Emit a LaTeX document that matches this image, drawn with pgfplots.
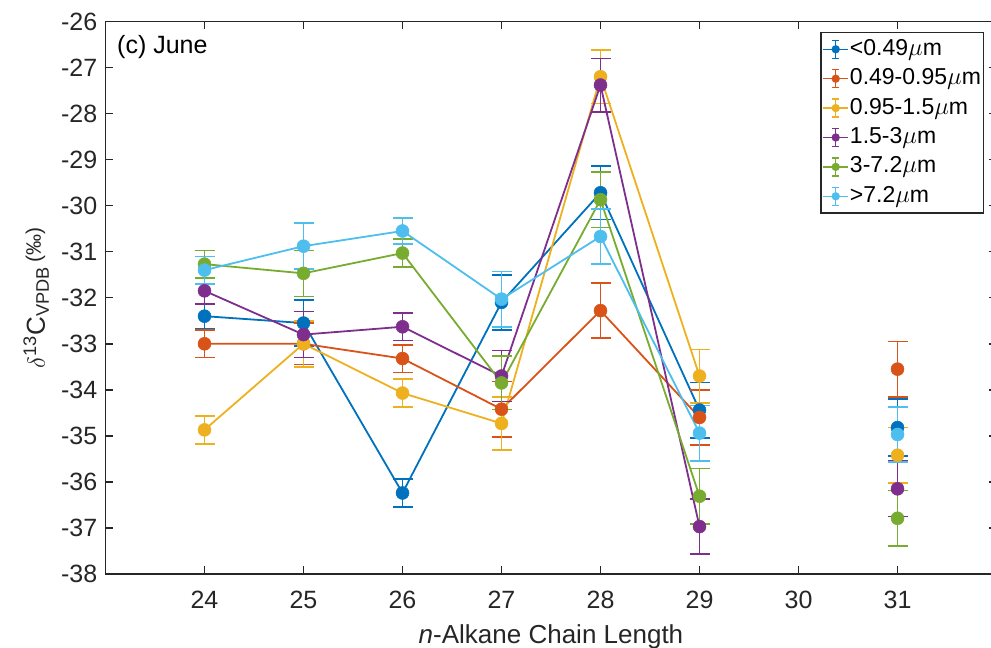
\documentclass[border=0pt]{standalone}
\usepackage{fontspec}
\setmainfont{Liberation Sans}
\usepackage{pgfplots}
\usepackage{pgfplotstable}
\pgfplotsset{compat=1.18}

\definecolor{c1}{HTML}{0072BD}
\definecolor{c2}{HTML}{D95319}
\definecolor{c3}{HTML}{EDB120}
\definecolor{c4}{HTML}{7E2F8E}
\definecolor{c5}{HTML}{77AC30}
\definecolor{c6}{HTML}{4DBEEE}
\definecolor{axgray}{RGB}{38,38,38}

\pgfplotstableread{
x y e
24 -32.40 0.27
25 -32.55 0.50
26 -36.24 0.30
27 -32.10 0.60
28 -29.72 0.58
29 -34.44 0.60
30 nan 0
31 -34.82 0.62
}\dA
\pgfplotstableread{
x y e
24 -33.00 0.30
25 -33.00 0.45
26 -33.32 0.30
27 -34.42 0.60
28 -32.28 0.60
29 -34.60 0.60
30 nan 0
31 -33.55 0.60
}\dB
\pgfplotstableread{
x y e
24 -34.87 0.30
25 -33.00 0.50
26 -34.07 0.30
27 -34.73 0.58
28 -27.20 0.58
29 -33.70 0.58
30 nan 0
31 -35.42 0.60
}\dC
\pgfplotstableread{
x y e
24 -31.85 0.28
25 -32.80 0.50
26 -32.63 0.30
27 -33.70 0.55
28 -27.38 0.58
29 -36.97 0.60
30 nan 0
31 -36.15 0.60
}\dD
\pgfplotstableread{
x y e
24 -31.27 0.30
25 -31.47 0.50
26 -31.03 0.30
27 -33.85 0.58
28 -29.87 0.60
29 -36.31 0.60
30 nan 0
31 -36.79 0.60
}\dE
\pgfplotstableread{
x y e
24 -31.40 0.30
25 -30.88 0.50
26 -30.55 0.28
27 -32.03 0.60
28 -30.67 0.60
29 -34.94 0.60
30 nan 0
31 -34.97 0.60
}\dF

\pgfplotsset{
  ser/.style={
    color=#1, line width=1.8bp, mark=*, mark size=6.5bp,
    mark options={solid, fill=#1, draw=#1, line width=0.5bp},
    error bars/.cd, y dir=both, y explicit,
      error bar style={line width=1.6bp, color=#1},
      error mark options={line width=1.6bp, mark size=10bp, color=#1, rotate=90},
  },
}

\begin{document}
\begin{tikzpicture}
\begin{axis}[
  name=ax,
  scale only axis,
  width=891bp, height=552.5bp,
  xmin=23, xmax=32, ymin=-38, ymax=-26,
  xtick={24,25,26,27,28,29,30,31},
  xticklabels={24,25,26,27,28,29,30,31},
  ytick={-38,-37,-36,-35,-34,-33,-32,-31,-30,-29,-28,-27,-26},
  yticklabels={-38,-37,-36,-35,-34,-33,-32,-31,-30,-29,-28,-27,-26},
  tick pos=both, tick align=inside,
  major tick length=8bp,
  axis line style={axgray, line width=1.5bp},
  every tick/.style={axgray, line width=1.5bp},
  tick label style={font=\fontsize{25bp}{30bp}\selectfont, text=axgray},
  xticklabel style={anchor=base, yshift=-34bp},
  yticklabel style={anchor=east, inner sep=0pt, xshift=-8bp},
  xlabel={{\itshape n}-Alkane Chain Length},
  xlabel style={font=\fontsize{26bp}{31bp}\selectfont, text=axgray, anchor=base, at={(axis description cs:0.5,-0.1249)}},
  ylabel={$\delta$\textsuperscript{13}C\textsubscript{VPDB}\,\raisebox{4bp}{\fontsize{21bp}{24bp}\selectfont(‰)}},
  ylabel style={font=\fontsize{26bp}{31bp}\selectfont, text=axgray, anchor=base, rotate=0, at={(axis description cs:-0.0679,0.5)}},
  unbounded coords=jump,
  clip=false,
  legend cell align=left,
  legend style={at={(0.986,0.981)}, anchor=north east, draw=axgray, line width=1.2bp,
    font=\fontsize{23bp}{27bp}\selectfont, fill=white,
    inner xsep=1.5bp, inner ysep=2bp, row sep=0pt,
    nodes={inner xsep=1bp, inner ysep=3.7bp, text height=17bp, text depth=5bp}},
  legend image code/.code={
    \draw[#1, mark=none, line width=1.5bp] (0bp,0bp) -- (25bp,0bp);
    \draw[#1, mark=none, line width=1.5bp] (12.5bp,-9bp) -- (12.5bp,9bp)
       (9bp,-9bp) -- (16bp,-9bp) (9bp,9bp) -- (16bp,9bp);
    \fill[#1, mark=none] (12.5bp,0bp) circle (3.2bp);
  },
]
\addplot[ser=c1] table[x=x, y=y, y error=e] {\dA};
\addlegendentry{<0.49$\mu$m}
\addplot[ser=c2] table[x=x, y=y, y error=e] {\dB};
\addlegendentry{0.49-0.95$\mu$m}
\addplot[ser=c3] table[x=x, y=y, y error=e] {\dC};
\addlegendentry{0.95-1.5$\mu$m}
\addplot[ser=c4] table[x=x, y=y, y error=e] {\dD};
\addlegendentry{1.5-3$\mu$m}
\addplot[ser=c5] table[x=x, y=y, y error=e] {\dE};
\addlegendentry{3-7.2$\mu$m}
\addplot[ser=c6] table[x=x, y=y, y error=e] {\dF};
\addlegendentry{>7.2$\mu$m}
\node[anchor=base west, font=\fontsize{25bp}{30bp}\selectfont, text=black, inner sep=0pt]
  at ([xshift=11.5bp, yshift=-32bp]rel axis cs:0,1) {(c) June};
\end{axis}
\pgfresetboundingbox
\path[use as bounding box] ([shift={(-105.5bp,-73bp)}]ax.south west) rectangle ([shift={(-5.5bp,21.5bp)}]ax.north east);
\end{tikzpicture}
\end{document}
